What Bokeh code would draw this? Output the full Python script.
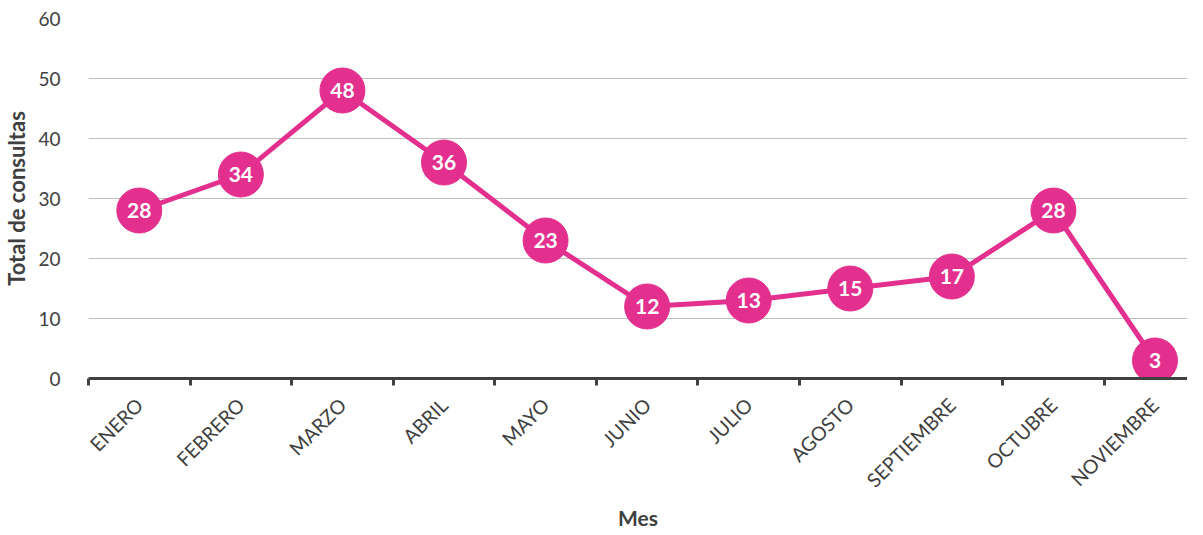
import numpy as np
from bokeh.plotting import figure
from bokeh.models import ColumnDataSource, FixedTicker, Range1d
from bokeh.embed import file_html
from bokeh.resources import INLINE
from bokeh.core.properties import value

months = ["ENERO", "FEBRERO", "MARZO", "ABRIL", "MAYO", "JUNIO", "JULIO",
          "AGOSTO", "SEPTIEMBRE", "OCTUBRE", "NOVIEMBRE"]
consultas = [28, 34, 48, 36, 23, 12, 13, 15, 17, 28, 3]
y_ticks = [0, 10, 20, 30, 40, 50, 60]

PINK = "#E3308F"
TXT = "#404040"
FONT = "Lato"

x_pos = [i + 0.5 for i in range(len(months))]
bounds = list(range(len(months) + 1))

src = ColumnDataSource(dict(x=x_pos, y=consultas,
                            lbl=[str(v) for v in consultas]))

p = figure(frame_width=1099, frame_height=360, x_range=Range1d(0, 10.82),
           y_range=Range1d(0, 60), output_backend="svg",
           toolbar_location=None, min_border_left=88, min_border_top=18,
           min_border_right=0, min_border_bottom=0)
p.outline_line_color = None
p.background_fill_color = "white"
p.border_fill_color = "white"

p.xgrid.grid_line_color = None
p.ygrid.grid_line_color = "#bfbfbf"
p.ygrid.grid_line_width = 1
p.ygrid.ticker = FixedTicker(ticks=y_ticks)

# y axis
p.yaxis.ticker = FixedTicker(ticks=y_ticks)
p.yaxis.axis_line_color = None
p.yaxis.major_tick_line_color = None
p.yaxis.minor_tick_line_color = None
p.yaxis.major_label_text_font = FONT
p.yaxis.major_label_text_font_size = "19px"
p.yaxis.major_label_text_color = TXT
p.yaxis.major_label_standoff = 22
p.yaxis.axis_label = "Total de consultas"
p.yaxis.axis_label_text_font = FONT
p.yaxis.axis_label_text_font_style = "bold"
p.yaxis.axis_label_text_font_size = "22px"
p.yaxis.axis_label_text_color = TXT
p.yaxis.axis_label_standoff = 5

# x axis
p.xaxis.ticker = FixedTicker(ticks=x_pos, minor_ticks=bounds)
p.xaxis.major_label_overrides = {x: m for x, m in zip(x_pos, months)}
p.xaxis.major_label_orientation = np.pi / 4
p.xaxis.major_label_text_font = FONT
p.xaxis.major_label_text_font_size = "19.5px"
p.xaxis.major_label_text_color = TXT
p.xaxis.major_label_standoff = 16
p.xaxis.major_tick_line_color = None
p.xaxis.minor_tick_line_color = TXT
p.xaxis.minor_tick_line_width = 3
p.xaxis.minor_tick_out = 7
p.xaxis.minor_tick_in = 0
p.xaxis.axis_line_color = TXT
p.xaxis.axis_line_width = 3
p.xaxis.axis_label = "Mes"
p.xaxis.axis_label_text_font = FONT
p.xaxis.axis_label_text_font_style = "bold"
p.xaxis.axis_label_text_font_size = "21px"
p.xaxis.axis_label_text_color = TXT
p.xaxis.axis_label_standoff = 2

p.line("x", "y", source=src, line_color=PINK, line_width=5)
p.scatter("x", "y", source=src, size=45, fill_color=PINK, line_color=PINK)
p.text("x", "y", text="lbl", source=src, text_color="white",
       text_font=value(FONT), text_font_style="bold",
       text_font_size="21px", text_align="center", text_baseline="middle")

open("out.html", "w").write(file_html(p, INLINE))
